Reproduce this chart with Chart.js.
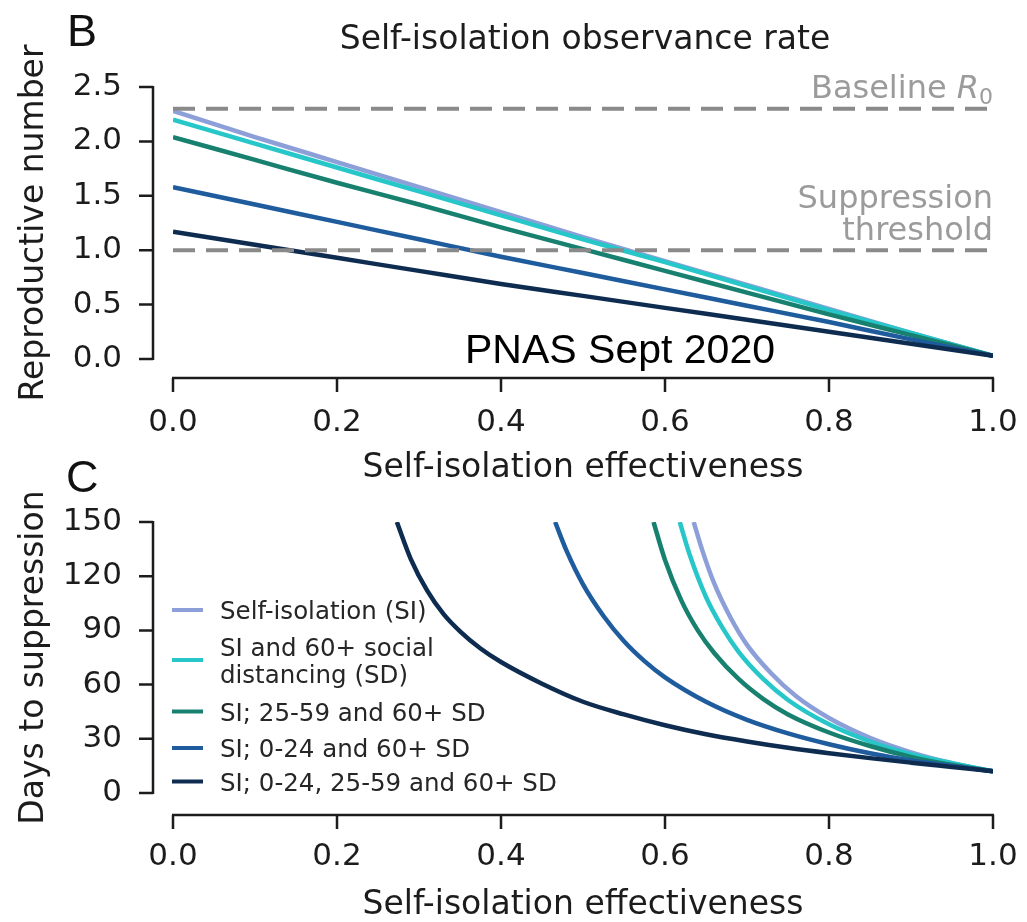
<!DOCTYPE html>
<html>
<head>
<meta charset="utf-8">
<script src="https://cdn.jsdelivr.net/npm/chart.js@4.4.1/dist/chart.umd.min.js"></script>
<style>
  html, body { margin: 0; padding: 0; background: #fff; }
  #wrap { position: relative; width: 1027px; height: 922px; overflow: hidden; }
  canvas { position: absolute; left: 0; }
  #chartB { top: 0; }
  #chartC { top: 440px; }
</style>
</head>
<body>
<div id="wrap">
  <canvas id="chartB" width="1027" height="490"></canvas>
  <canvas id="chartC" width="1027" height="482"></canvas>
</div>
<script>
// --- DATA: panel B (reproductive number vs. self-isolation effectiveness) ---
const effB = [0, 0.1, 0.2, 0.3, 0.4, 0.5, 0.6, 0.7, 0.8, 0.9, 1.0];
const rSI      = [2.28, 2.04, 1.81, 1.58, 1.35, 1.12, 0.90, 0.68, 0.46, 0.24, 0.03];
const rSI60    = [2.20, 1.98, 1.76, 1.54, 1.32, 1.10, 0.89, 0.67, 0.45, 0.24, 0.03];
const rSI2559  = [2.04, 1.83, 1.62, 1.42, 1.21, 1.01, 0.81, 0.61, 0.41, 0.22, 0.03];
const rSI024   = [1.58, 1.42, 1.26, 1.10, 0.94, 0.79, 0.64, 0.49, 0.34, 0.18, 0.03];
const rSIAll   = [1.17, 1.05, 0.93, 0.81, 0.69, 0.58, 0.47, 0.36, 0.25, 0.14, 0.03];
const baselineR0 = 2.3;
const suppressionThreshold = 1.0;

// --- DATA: panel C (days to suppression) ---
const effC_SI     = [0.635, 0.645, 0.66, 0.68, 0.70, 0.73, 0.76, 0.80, 0.85, 0.90, 0.95, 1.0];
const daysSI      = [150, 135, 116, 97, 82, 66, 53.5, 41.5, 30.5, 22.5, 16.5, 12];
const effC_SI60   = [0.618, 0.63, 0.65, 0.67, 0.69, 0.72, 0.75, 0.80, 0.85, 0.90, 0.95, 1.0];
const daysSI60    = [150, 132, 108.5, 91.5, 78, 63, 51.5, 38, 28.5, 21.5, 16.5, 12];
const effC_SI2559 = [0.586, 0.60, 0.62, 0.64, 0.66, 0.69, 0.72, 0.75, 0.80, 0.85, 0.90, 0.95, 1.0];
const daysSI2559  = [150, 129, 106.5, 90, 77.5, 63, 52, 43.5, 33.5, 26, 20, 15.5, 12];
const effC_SI024  = [0.466, 0.48, 0.50, 0.525, 0.55, 0.575, 0.60, 0.65, 0.70, 0.75, 0.80, 0.85, 0.90, 0.95, 1.0];
const daysSI024   = [150, 134, 115.5, 98, 84, 73, 64, 50.5, 40.5, 33, 27, 22, 18, 15, 12];
const effC_SIAll  = [0.273, 0.29, 0.31, 0.33, 0.35, 0.375, 0.40, 0.45, 0.50, 0.55, 0.60, 0.65, 0.70, 0.75, 0.80, 0.85, 0.90, 0.95, 1.0];
const daysSIAll   = [150, 129.5, 112, 99, 89.5, 80, 72.5, 60.5, 50.5, 43.5, 37.5, 32.5, 28.5, 25, 22, 19.3, 16.8, 14.4, 12];

// --- LABELS AND TICKS ---
const seriesNames = [
    ['Self-isolation (SI)'],
    ['SI and 60+ social', 'distancing (SD)'],
    ['SI; 25-59 and 60+ SD'],
    ['SI; 0-24 and 60+ SD'],
    ['SI; 0-24, 25-59 and 60+ SD']
];
const xTicks = [0, 0.2, 0.4, 0.6, 0.8, 1.0];
const yTicksB = [0, 0.5, 1.0, 1.5, 2.0, 2.5];
const yTicksC = [0, 30, 60, 90, 120, 150];

// --- STYLE ---
const seriesColors = ['#8d9fd9', '#27c6c9', '#17806f', '#1e5c9d', '#0e2c50'];
const FONT = "'DejaVu Sans', sans-serif";
const INK = '#1c1c1c';
const GREY = '#9b9b9b';

Chart.defaults.font.family = FONT;
Chart.defaults.color = INK;

const toPoints = (xs, ys) => xs.map((x, i) => ({ x: x, y: ys[i] }));

const curve = (idx, points) => ({
    label: seriesNames[idx].join(' '),
    data: points,
    borderColor: seriesColors[idx],
    borderWidth: 4.5,
    pointRadius: 0,
    cubicInterpolationMode: 'monotone',
    order: 5 - idx
});

const dashed = (value) => ({
    data: toPoints([0, 1], [value, value]),
    borderColor: '#8a8a8a',
    borderWidth: 4,
    borderDash: [22, 11],
    pointRadius: 0,
    order: 0
});

// offset spines with outward tick marks, drawn from the scales
const spines = (yGap, xGap, tickLen) => ({
    id: 'spines',
    afterDraw(chart) {
        const { ctx, chartArea, scales: { x, y } } = chart;
        const sx = chartArea.left - yGap;
        const sy = chartArea.bottom + xGap;
        ctx.save();
        ctx.strokeStyle = INK;
        ctx.lineWidth = 2.5;
        ctx.beginPath();
        ctx.moveTo(sx, y.getPixelForValue(y.max) - 1);
        ctx.lineTo(sx, y.getPixelForValue(y.min) + 1);
        y.ticks.forEach(t => {
            const p = y.getPixelForValue(t.value);
            ctx.moveTo(sx - tickLen, p);
            ctx.lineTo(sx, p);
        });
        ctx.moveTo(x.getPixelForValue(x.min) - 1, sy);
        ctx.lineTo(x.getPixelForValue(x.max) + 1, sy);
        x.ticks.forEach(t => {
            const p = x.getPixelForValue(t.value);
            ctx.moveTo(p, sy);
            ctx.lineTo(p, sy + tickLen);
        });
        ctx.stroke();
        ctx.restore();
    }
});

const axes = (yTicks, yMax, yLabel, yFmt, xHeight, xTitlePad) => ({
    x: {
        type: 'linear',
        min: 0,
        max: 1,
        afterBuildTicks: s => { s.ticks = xTicks.map(v => ({ value: v })); },
        afterFit: s => {
            s.height = xHeight;
            s.paddingLeft = 0;
            s.paddingRight = 0;
        },
        grid: { display: false, drawTicks: false },
        border: { display: false },
        ticks: {
            callback: v => v.toFixed(1),
            font: { size: 31 },
            color: INK,
            padding: 45,
            maxRotation: 0,
            autoSkip: false
        },
        title: {
            display: true,
            text: 'Self-isolation effectiveness',
            font: { size: 33, lineHeight: 1 },
            color: INK,
            padding: { top: 0, bottom: xTitlePad }
        }
    },
    y: {
        type: 'linear',
        min: 0,
        max: yMax,
        afterBuildTicks: s => { s.ticks = yTicks.map(v => ({ value: v })); },
        afterFit: s => {
            s.width = 173;
            s.paddingTop = 0;
            s.paddingBottom = 0;
        },
        grid: { display: false, drawTicks: false },
        border: { display: false },
        ticks: {
            callback: yFmt,
            font: { size: 31 },
            color: INK,
            padding: 51,
            autoSkip: false
        },
        title: {
            display: true,
            text: yLabel,
            font: { size: 33, lineHeight: 1 },
            color: INK,
            padding: { top: 18, bottom: 0 }
        }
    }
});

const baseOptions = {
    responsive: false,
    animation: false,
    devicePixelRatio: 1,
    plugins: { legend: { display: false }, tooltip: { enabled: false } }
};

// --- PANEL B ---
const panelBText = {
    id: 'panelBText',
    afterDraw(chart) {
        const { ctx, chartArea, scales: { y } } = chart;
        ctx.save();
        ctx.textBaseline = 'alphabetic';

        ctx.fillStyle = '#111';
        ctx.font = "45px 'Liberation Sans', sans-serif";
        ctx.textAlign = 'left';
        ctx.fillText('B', 67, 46);

        ctx.fillStyle = INK;
        ctx.font = `33px ${FONT}`;
        ctx.textAlign = 'center';
        ctx.fillText('Self-isolation observance rate', (chartArea.left + chartArea.right) / 2 + 2, 49);

        // reference line labels, right-aligned at the end of the axis
        const right = chartArea.right;
        ctx.fillStyle = GREY;
        ctx.textAlign = 'left';
        const yR0 = y.getPixelForValue(baselineR0) - 11;
        ctx.font = `22px ${FONT}`;
        const wSub = ctx.measureText('0').width;
        ctx.font = `italic 32px ${FONT}`;
        const wR = ctx.measureText('R').width;
        ctx.font = `32px ${FONT}`;
        const wBase = ctx.measureText('Baseline ').width;
        let cx = right - wSub - wR - wBase;
        ctx.fillText('Baseline ', cx, yR0);
        cx += wBase;
        ctx.font = `italic 32px ${FONT}`;
        ctx.fillText('R', cx, yR0);
        cx += wR;
        ctx.font = `22px ${FONT}`;
        ctx.fillText('0', cx, yR0 + 6);

        ctx.font = `32px ${FONT}`;
        ctx.textAlign = 'right';
        const yThr = y.getPixelForValue(suppressionThreshold);
        ctx.fillText('Suppression', right, yThr - 42);
        ctx.fillText('threshold', right, yThr - 10);

        ctx.fillStyle = '#000';
        ctx.font = "41px 'Liberation Sans', sans-serif";
        ctx.textAlign = 'left';
        ctx.fillText('PNAS Sept 2020', 465, 363);
        ctx.restore();
    }
};

new Chart(document.getElementById('chartB'), {
    type: 'line',
    data: {
        datasets: [
            curve(0, toPoints(effB, rSI)),
            curve(1, toPoints(effB, rSI60)),
            curve(2, toPoints(effB, rSI2559)),
            curve(3, toPoints(effB, rSI024)),
            curve(4, toPoints(effB, rSIAll)),
            dashed(baselineR0),
            dashed(suppressionThreshold)
        ]
    },
    options: {
        ...baseOptions,
        layout: { padding: { top: 87, right: 34, left: 0, bottom: 0 } },
        scales: axes(yTicksB, 2.5, 'Reproductive number', v => v.toFixed(1), 131, 5)
    },
    plugins: [spines(20, 19, 14), panelBText]
});

// --- PANEL C ---
const panelCText = {
    id: 'panelCText',
    afterDraw(chart) {
        const { ctx } = chart;
        ctx.save();
        ctx.fillStyle = '#111';
        ctx.font = "45px 'Liberation Sans', sans-serif";
        ctx.textAlign = 'left';
        ctx.textBaseline = 'alphabetic';
        ctx.fillText('C', 66, 52);

        // legend block inside the plot area
        const rows = [170, 220, 271.5, 308, 341.5];
        ctx.font = `24.5px ${FONT}`;
        seriesNames.forEach((lines, i) => {
            const cy = rows[i];
            ctx.strokeStyle = seriesColors[i];
            ctx.lineWidth = 4;
            ctx.beginPath();
            ctx.moveTo(172, cy);
            ctx.lineTo(203, cy);
            ctx.stroke();
            ctx.fillStyle = '#262626';
            const lh = 27;
            const top = cy - (lines.length - 1) * lh / 2;
            lines.forEach((t, j) => ctx.fillText(t, 220, top + j * lh + 9));
        });
        ctx.restore();
    }
};

new Chart(document.getElementById('chartC'), {
    type: 'line',
    data: {
        datasets: [
            curve(0, toPoints(effC_SI, daysSI)),
            curve(1, toPoints(effC_SI60, daysSI60)),
            curve(2, toPoints(effC_SI2559, daysSI2559)),
            curve(3, toPoints(effC_SI024, daysSI024)),
            curve(4, toPoints(effC_SIAll, daysSIAll))
        ]
    },
    options: {
        ...baseOptions,
        layout: { padding: { top: 82, right: 34, left: 0, bottom: 0 } },
        scales: axes(yTicksC, 150, 'Days to suppression', v => String(v), 129, 0)
    },
    plugins: [spines(20, 22, 14), panelCText]
});
</script>
</body>
</html>
